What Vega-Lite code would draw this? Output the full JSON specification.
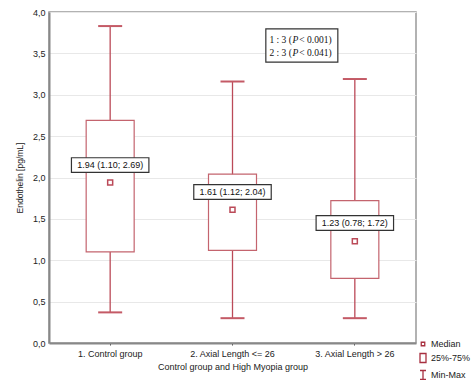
{
  "$schema": "https://vega.github.io/schema/vega-lite/v6.json",
  "width": 367,
  "height": 331,
  "autosize": {"type": "none"},
  "padding": {"left": 49, "top": 12, "right": 55, "bottom": 37},
  "background": "white",
  "config": {
    "font": "Liberation Sans",
    "view": {"stroke": "#999999", "strokeWidth": 1.5},
    "axis": {"labelFont": "Liberation Sans", "titleFont": "Liberation Sans", "labelColor": "#222", "titleColor": "#222", "titleFontWeight": "normal"}
  },
  "datasets": {
    "groups": [
      {"group": "1. Control group", "min": 0.37, "q1": 1.10, "median": 1.94, "q3": 2.69, "max": 3.83},
      {"group": "2. Axial Length <= 26", "min": 0.30, "q1": 1.12, "median": 1.61, "q3": 2.04, "max": 3.16},
      {"group": "3. Axial Length > 26", "min": 0.30, "q1": 0.78, "median": 1.23, "q3": 1.72, "max": 3.19}
    ],
    "labels": [
      {"group": "1. Control group", "y": 2.15, "text": "1.94 (1.10; 2.69)"},
      {"group": "2. Axial Length <= 26", "y": 1.825, "text": "1.61 (1.12; 2.04)"},
      {"group": "3. Axial Length > 26", "y": 1.45, "text": "1.23 (0.78; 1.72)"}
    ],
    "stats": [
      {"group": "2. Axial Length <= 26", "y": 3.66, "pre": "1 : 3 (", "p": "P", "post": "< 0.001)"},
      {"group": "2. Axial Length <= 26", "y": 3.50, "pre": "2 : 3 (", "p": "P", "post": "< 0.041)"}
    ],
    "statbox": [
      {"group": "2. Axial Length <= 26", "y": 3.595}
    ],
    "legend": [
      {"item": "Median"},
      {"item": "25%-75%"},
      {"item": "Min-Max"}
    ]
  },
  "encoding": {
    "x": {
      "field": "group", "type": "nominal",
      "scale": {"type": "band", "paddingInner": 0, "paddingOuter": 0, "domain": ["1. Control group", "2. Axial Length <= 26", "3. Axial Length > 26"]},
      "axis": {"title": "Control group and High Myopia group", "labelAngle": 0, "labelFontSize": 9, "titleFontSize": 9, "labelPadding": 4, "titlePadding": 4, "tickSize": 2, "tickColor": "#444", "domainColor": "#888888", "domainWidth": 2, "grid": false}
    }
  },
  "layer": [
    {
      "data": {"name": "groups"},
      "mark": {"type": "rule", "color": "#bb4a58", "strokeWidth": 1.3},
      "encoding": {
        "y": {"field": "min", "type": "quantitative",
          "scale": {"domain": [0, 4], "nice": false},
          "axis": {"title": "Endothelin [pg/mL]", "values": [0, 0.5, 1, 1.5, 2, 2.5, 3, 3.5, 4], "labelExpr": "replace(format(datum.value, '.1f'), '.', ',')", "labelFontSize": 9, "titleFontSize": 8.5, "labelPadding": 4, "titlePadding": 8, "ticks": false, "domainColor": "#888888", "domainWidth": 2, "gridColor": "#e8e8e8", "gridWidth": 1}},
        "y2": {"field": "max"}
      }
    },
    {
      "data": {"name": "groups"},
      "mark": {"type": "bar", "size": 48, "fill": "white", "stroke": "#c4646e", "strokeWidth": 1.2},
      "encoding": {
        "y": {"field": "q1", "type": "quantitative"},
        "y2": {"field": "q3"}
      }
    },
    {
      "data": {"name": "groups"},
      "mark": {"type": "tick", "size": 24, "thickness": 2, "color": "#c45a66", "opacity": 1},
      "encoding": {"y": {"field": "max", "type": "quantitative"}}
    },
    {
      "data": {"name": "groups"},
      "mark": {"type": "tick", "size": 24, "thickness": 2, "color": "#c45a66", "opacity": 1},
      "encoding": {"y": {"field": "min", "type": "quantitative"}}
    },
    {
      "data": {"name": "groups"},
      "mark": {"type": "point", "shape": "square", "size": 25, "filled": true, "fill": "white", "stroke": "#bb4a58", "strokeWidth": 1.5, "opacity": 1},
      "encoding": {"y": {"field": "median", "type": "quantitative"}}
    },
    {
      "data": {"name": "labels"},
      "mark": {"type": "point", "shape": "M-1,-0.19L1,-0.19L1,0.19L-1,0.19Z", "size": 6000, "filled": true, "fill": "white", "stroke": "#333333", "strokeWidth": 1.2, "opacity": 1},
      "encoding": {"y": {"field": "y", "type": "quantitative"}}
    },
    {
      "data": {"name": "labels"},
      "mark": {"type": "text", "font": "Liberation Sans", "fontSize": 9, "color": "#111", "baseline": "middle", "align": "center"},
      "encoding": {"y": {"field": "y", "type": "quantitative"}, "text": {"field": "text"}}
    },
    {
      "data": {"name": "statbox"},
      "mark": {"type": "point", "shape": "M-1,-0.46L1,-0.46L1,0.46L-1,0.46Z", "size": 5184, "filled": true, "fill": "white", "stroke": "#333333", "strokeWidth": 1.2, "opacity": 1},
      "encoding": {"y": {"field": "y", "type": "quantitative"}, "xOffset": {"value": 130.5}}
    },
    {
      "data": {"name": "stats"},
      "mark": {"type": "text", "font": "Liberation Serif", "fontSize": 9.5, "color": "#111", "baseline": "middle", "align": "right"},
      "encoding": {"y": {"field": "y", "type": "quantitative"}, "text": {"field": "pre"}, "xOffset": {"value": 120.5}}
    },
    {
      "data": {"name": "stats"},
      "mark": {"type": "text", "font": "Liberation Serif", "fontSize": 9.5, "fontStyle": "italic", "color": "#111", "baseline": "middle", "align": "center"},
      "encoding": {"y": {"field": "y", "type": "quantitative"}, "text": {"field": "p"}, "xOffset": {"value": 124}}
    },
    {
      "data": {"name": "stats"},
      "mark": {"type": "text", "font": "Liberation Serif", "fontSize": 9.5, "color": "#111", "baseline": "middle", "align": "left"},
      "encoding": {"y": {"field": "y", "type": "quantitative"}, "text": {"field": "post"}, "xOffset": {"value": 128}}
    },
    {
      "data": {"name": "legend"},
      "mark": {"type": "point", "opacity": 0, "filled": false},
      "encoding": {
        "shape": {
          "field": "item", "type": "nominal",
          "scale": {"domain": ["Median", "25%-75%", "Min-Max"], "range": ["M-0.35,-0.35L0.35,-0.35L0.35,0.35L-0.35,0.35Z", "M-0.6,-0.9L0.6,-0.9L0.6,0.9L-0.6,0.9Z", "M-0.6,-0.9L0.6,-0.9M0,-0.9L0,0.9M-0.6,0.9L0.6,0.9"]},
          "legend": {"title": null, "orient": "none", "legendX": 368, "legendY": 326, "symbolSize": 100, "symbolOpacity": 1, "symbolStrokeColor": "#a83040", "symbolFillColor": "white", "symbolStrokeWidth": 1.3, "labelFont": "Liberation Sans", "labelFontSize": 9, "labelColor": "#222", "labelOffset": 2, "rowPadding": 1, "symbolOffset": 0}
        }
      }
    }
  ]
}
